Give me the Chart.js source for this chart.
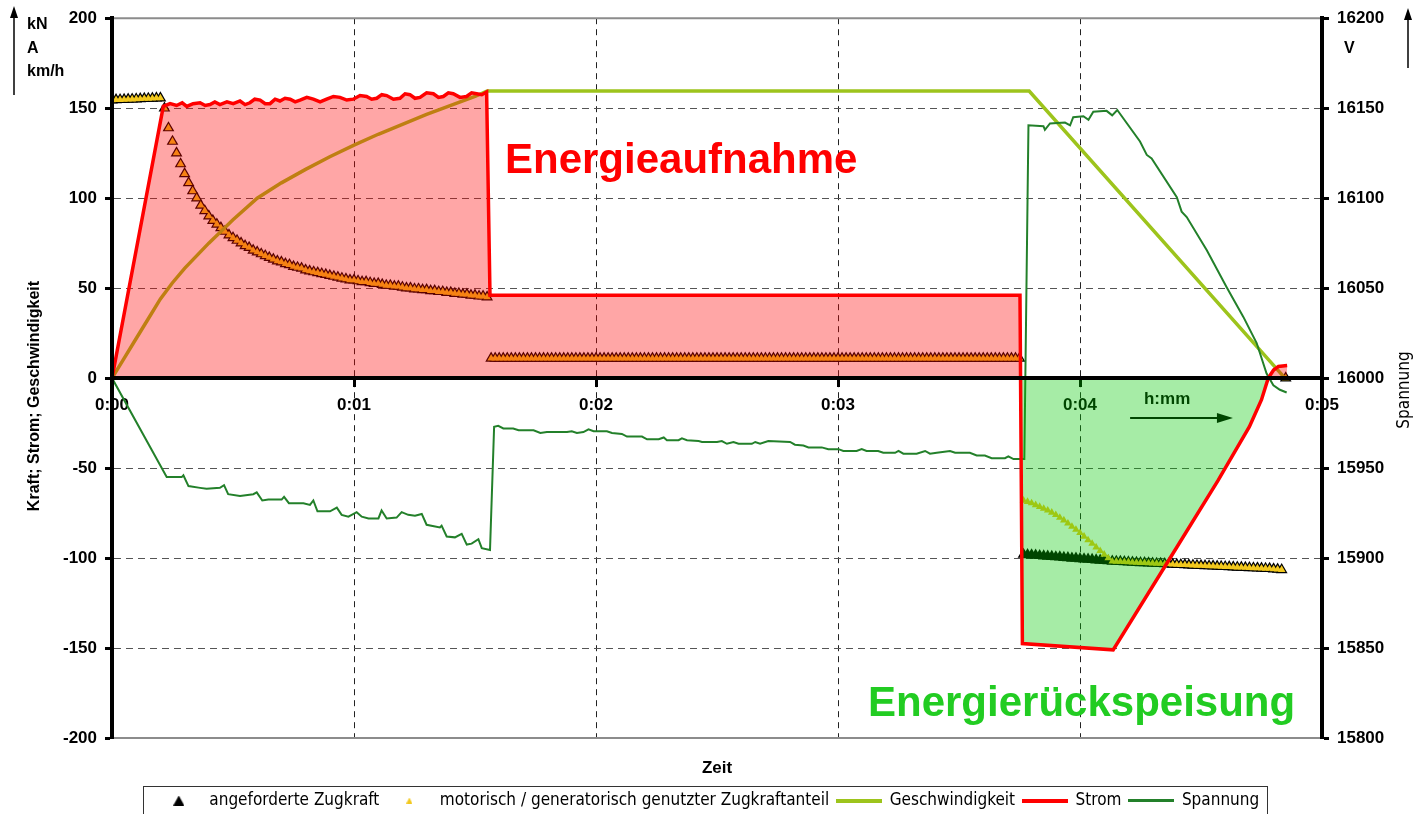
<!DOCTYPE html>
<html lang="de">
<head>
<meta charset="UTF-8">
<title>Fahrtverlauf: Zugkraft, Strom, Geschwindigkeit, Spannung</title>
<script src="https://cdn.jsdelivr.net/npm/chart.js"></script>
<style>
  html, body { margin: 0; padding: 0; background: #fff; }
</style>
</head>
<body>
<canvas id="fahrtChart" width="1416" height="814"></canvas>

<script>
// Zeitachse in Minuten, Beschriftung h:mm
const zeitLabels = ['0:00', '0:01', '0:02', '0:03', '0:04', '0:05'];

// Zugkraft in kN, ein Messwert pro Sekunde (1/60 min)
const zugAnfahrt = [
  154.5, 154.6, 154.7, 154.8, 154.9, 155, 155.1, 155.2, 155.3, 155.4, 155.5, 155.6, 155.6,
  150, 139, 131.5, 125, 119, 113.5, 108.5, 104, 100, 96, 93, 90, 87.5, 85.5, 83.5, 81.5,
  79.5, 78, 76.5, 75, 73.5, 72.5, 71, 70, 69, 68, 67, 66, 65, 64.5, 63.5, 63, 62, 61.5,
  61, 60, 59.5, 59, 58.5, 58, 57.5, 57, 56.5, 56, 55.5, 55, 54.5, 54.5, 54, 53.5, 53.5,
  53, 52.5, 52.5, 52, 51.5, 51.5, 51, 51, 50.5, 50, 50, 49.5, 49.5, 49, 49, 48.5, 48.5,
  48, 48, 47.5, 47.5, 47, 47, 46.5, 46.5, 46, 46, 45.5, 45.5, 45
];
const zugKonstant = [
  11, 11, 11, 11, 11, 11, 11, 11, 11, 11, 11, 11,
  11, 11, 11, 11, 11, 11, 11, 11, 11, 11, 11, 11,
  11, 11, 11, 11, 11, 11, 11, 11, 11, 11, 11, 11,
  11, 11, 11, 11, 11, 11, 11, 11, 11, 11, 11, 11,
  11, 11, 11, 11, 11, 11, 11, 11, 11, 11, 11, 11,
  11, 11, 11, 11, 11, 11, 11, 11, 11, 11, 11, 11,
  11, 11, 11, 11, 11, 11, 11, 11, 11, 11, 11, 11,
  11, 11, 11, 11, 11, 11, 11, 11, 11, 11, 11, 11,
  11, 11, 11, 11, 11, 11, 11, 11, 11, 11, 11, 11,
  11, 11, 11, 11, 11, 11, 11, 11, 11, 11, 11, 11,
  11, 11, 11, 11, 11, 11, 11, 11, 11, 11, 11, 11
];
// Bremsphase: erst angefordert / genutzt getrennt, danach gemeinsam
const zugBremsAngefordert = [
  -98.0, -98.2, -98.3, -98.5, -98.7, -98.9, -99.0, -99.2, -99.4, -99.5, -99.7, -99.9,
  -100.1, -100.2, -100.4, -100.6, -100.7, -100.9, -101.1, -101.3, -101.4, -101.6, -101.8
];
const zugBremsGenutzt = [
  -68, -68.7, -69.5, -70.5, -71.5, -72.5, -73.5, -74.7, -76, -77.5, -79, -80.7,
  -82.5, -84.2, -86, -88, -90, -92, -94, -96, -98, -100, -101.8
];
const zugBremsEnde = [
  -101.9, -102.0, -102.1, -102.2, -102.4, -102.5, -102.6, -102.7, -102.8, -102.9, -103.0,
  -103.1, -103.2, -103.4, -103.5, -103.6, -103.7, -103.8, -103.9, -104.0, -104.1, -104.2,
  -104.3, -104.4, -104.5, -104.6, -104.7, -104.8, -104.9, -105.0, -105.1, -105.2, -105.3,
  -105.4, -105.5, -105.6, -105.7, -105.8, -105.9, -106.1, -106.3, -106.5,
  0
];

// Geschwindigkeit in km/h
const geschwZeit = [0, 0.05, 0.1, 0.15, 0.2, 0.25, 0.3, 0.4, 0.5, 0.6, 0.7, 0.8, 0.9, 1.0,
  1.1, 1.2, 1.3, 1.4, 1.5, 1.55, 3.79, 4.847];
const geschwWerte = [0, 11, 22, 33, 44, 53, 61, 75, 88, 100, 108.5, 116, 123, 129.5,
  135.5, 141, 146.5, 151.5, 156.5, 159.5, 159.5, 0];

// Strom in A
const stromZeit = [0, 0.212, 0.24, 0.267, 0.29, 0.309, 0.335, 0.364, 0.385, 0.405, 0.425, 0.446,
  0.475, 0.501, 0.529, 0.550, 0.570, 0.590, 0.612, 0.633, 0.653, 0.674, 0.694, 0.715, 0.736,
  0.757, 0.777, 0.805, 0.832, 0.860, 0.887, 0.915, 0.942, 0.970, 0.997, 1.025, 1.052,
  1.073, 1.094, 1.115, 1.135, 1.163, 1.190, 1.211, 1.231, 1.252, 1.273, 1.300, 1.328,
  1.349, 1.369, 1.390, 1.410, 1.438, 1.465, 1.486, 1.507, 1.528, 1.548,
  1.562, 3.752, 3.762, 4.137, 4.400, 4.570, 4.700, 4.750, 4.778,
  4.800, 4.820, 4.856];
const stromWerte = [0, 151, 152.5, 151.5, 153, 151, 152.5, 153, 151.5, 152, 153.5, 152,
  153.5, 152.5, 154, 152, 153, 155, 154.5, 152.5, 152.5, 155, 154, 155.5, 155,
  153.5, 154.5, 156, 155, 153.5, 155, 156.5, 156, 154.5, 155, 157, 156.5,
  155, 155.5, 157.5, 157, 155, 155.5, 158, 157.5, 155.5, 156, 158.5, 158,
  156, 156.5, 158.5, 158, 156, 156.5, 158.5, 158, 157.5, 159,
  46, 46, -147.5, -151, -94, -57, -27, -12, 0,
  4.5, 6.5, 7];

// Fahrdrahtspannung in V
const spannungZeit = [
  0, 0.226, 0.288, 0.295, 0.316, 0.364, 0.391, 0.446, 0.463, 0.480,
  0.529, 0.584, 0.598, 0.621, 0.646, 0.701, 0.711, 0.731, 0.791, 0.818,
  0.832, 0.849, 0.901, 0.929, 0.949, 0.977, 1.011, 1.032, 1.060, 1.101,
  1.114, 1.135, 1.176, 1.197, 1.224, 1.252, 1.280, 1.300, 1.355, 1.362,
  1.383, 1.417, 1.445, 1.466, 1.486, 1.514, 1.528, 1.562, 1.579, 1.596,
  1.617, 1.658, 1.680, 1.742, 1.770, 1.797, 1.818, 1.880, 1.900, 1.921,
  1.948, 1.969, 1.990, 2.045, 2.066, 2.107, 2.128, 2.190, 2.211, 2.259,
  2.280, 2.293, 2.341, 2.355, 2.376, 2.424, 2.438, 2.500, 2.520, 2.541,
  2.568, 2.589, 2.644, 2.658, 2.678, 2.712, 2.802, 2.822, 2.857, 2.878,
  2.933, 2.960, 3.002, 3.022, 3.077, 3.098, 3.118, 3.166, 3.187, 3.236,
  3.250, 3.270, 3.325, 3.360, 3.380, 3.408, 3.463, 3.484, 3.545, 3.573,
  3.607, 3.635, 3.690, 3.704, 3.725, 3.770, 3.787, 3.849, 3.855, 3.876,
  3.938, 3.959, 3.972, 4.014, 4.035, 4.055, 4.110, 4.133, 4.154, 4.248,
  4.276, 4.296, 4.400, 4.420, 4.441, 4.524, 4.606, 4.675, 4.730, 4.771,
  4.799, 4.826, 4.854
];
const spannungWerte = [
  16000, 15945, 15945, 15946, 15940, 15939, 15938.5, 15939, 15940.5, 15935.5,
  15934.5, 15935.5, 15936.5, 15932, 15932.5, 15932.5, 15934, 15930.5, 15930.5, 15929.5,
  15932, 15926, 15926, 15928, 15924, 15923, 15925.5, 15923, 15922, 15922,
  15926.5, 15922, 15922.5, 15925.5, 15924, 15923.5, 15924.5, 15918.5, 15917, 15918,
  15912, 15911.5, 15913.5, 15907.5, 15908, 15910.5, 15905.5, 15904.5, 15973, 15973.5,
  15972, 15972, 15971, 15971, 15969.5, 15970, 15970, 15970, 15970.5, 15969.5,
  15970, 15971.5, 15970.5, 15970.5, 15969.5, 15969, 15967.5, 15967.5, 15966, 15966,
  15967, 15965.5, 15965.5, 15966.5, 15965.5, 15965, 15964.5, 15964.5, 15965, 15963.5,
  15964.5, 15963.5, 15963.5, 15964.5, 15963.5, 15965, 15964.5, 15963, 15962.5, 15961.5,
  15961.5, 15960.5, 15960.5, 15959.5, 15959.5, 15960.5, 15959.5, 15959.5, 15958.5, 15958.5,
  15959.5, 15958, 15958, 15959.5, 15958, 15958.5, 15959.5, 15958.5, 15958.5, 15957,
  15957, 15955.5, 15955.5, 15956.5, 15955, 15955, 16140.5, 16140, 16138, 16141.5,
  16142, 16140.5, 16145, 16145.5, 16143.5, 16148, 16148.5, 16146, 16149, 16131.5,
  16124, 16122, 16100.5, 16092.5, 16089.5, 16071, 16050.5, 16034, 16019.5, 16002.5,
  15996, 15993.5, 15992
];

const zugAngefordert = [...zugAnfahrt, ...zugKonstant, ...zugBremsAngefordert, ...zugBremsEnde];
const zugGenutzt = [...zugAnfahrt, ...zugKonstant, ...zugBremsGenutzt, ...zugBremsEnde];
const zugZeit = zugAngefordert.map((_, i) => i / 60);

const punkte = (zeit, werte) => zeit.map((t, i) => ({ x: t, y: werte[i] }));

const farbe = {
  zugkraft: '#000000',
  genutzt: '#F2C81E',
  geschw: '#9DC41C',
  strom: '#FF0000',
  spannung: '#23802A'
};

// kleine Symbole fuer die Legende
function symbol(w, h, malen) {
  const c = document.createElement('canvas');
  c.width = w;
  c.height = h;
  malen(c.getContext('2d'), w, h);
  return c;
}
const dreieck = (col) => (g, w, h) => {
  g.fillStyle = col;
  g.beginPath();
  g.moveTo(w / 2, 0);
  g.lineTo(w, h);
  g.lineTo(0, h);
  g.closePath();
  g.fill();
};
const balken = (col) => (g, w, h) => { g.fillStyle = col; g.fillRect(0, 0, w, h); };
const legendenSymbole = [
  symbol(11, 10, dreieck(farbe.zugkraft)),
  symbol(6, 6, dreieck(farbe.genutzt)),
  symbol(46, 4, balken(farbe.geschw)),
  symbol(46, 4, balken(farbe.strom)),
  symbol(46, 3, balken(farbe.spannung))
];

const fontBold = '"Liberation Sans", Arial, Helvetica, sans-serif';
const fontNarrow = '"Liberation Sans Narrow", "Arial Narrow", "DejaVu Sans Condensed", sans-serif';

// Texte, Pfeile und Rahmen rund ums Diagramm
const beschriftung = {
  id: 'beschriftung',
  beforeDatasetsDraw(chart) {
    const { ctx, chartArea: a } = chart;
    const sx = chart.scales.x;
    const y0 = chart.scales.y.getPixelForValue(0);
    ctx.save();
    ctx.strokeStyle = '#8c8c8c';
    ctx.lineWidth = 2;
    ctx.beginPath();
    ctx.moveTo(a.left, a.top); ctx.lineTo(a.right, a.top);
    ctx.moveTo(a.left, a.bottom); ctx.lineTo(a.right, a.bottom);
    ctx.stroke();

    // h:mm mit Pfeil
    ctx.fillStyle = '#000';
    ctx.strokeStyle = '#000';
    ctx.font = 'bold 17px ' + fontBold;
    ctx.textAlign = 'center';
    ctx.textBaseline = 'middle';
    ctx.fillText('h:mm', sx.getPixelForValue(4.36), y0 + 21);
    const pa = sx.getPixelForValue(4.207), pb = sx.getPixelForValue(4.632), py = y0 + 40;
    ctx.lineWidth = 2;
    ctx.beginPath(); ctx.moveTo(pa, py); ctx.lineTo(pb - 12, py); ctx.stroke();
    ctx.beginPath(); ctx.moveTo(pb, py); ctx.lineTo(pb - 16, py - 5); ctx.lineTo(pb - 16, py + 5); ctx.closePath(); ctx.fill();
    ctx.restore();
  },
  afterDraw(chart) {
    const { ctx } = chart;
    ctx.save();
    ctx.fillStyle = '#000';
    ctx.strokeStyle = '#000';

    // Einheiten links und rechts mit Pfeil
    ctx.font = 'bold 16px ' + fontBold;
    ctx.textAlign = 'left';
    ctx.textBaseline = 'middle';
    ctx.fillText('kN', 27, 25);
    ctx.fillText('A', 27, 49);
    ctx.fillText('km/h', 27, 72);
    ctx.fillText('V', 1344, 49);
    const pfeilHoch = (x, yUnten, yOben) => {
      ctx.lineWidth = 1.5;
      ctx.beginPath(); ctx.moveTo(x, yUnten); ctx.lineTo(x, yOben + 8); ctx.stroke();
      ctx.beginPath(); ctx.moveTo(x, yOben); ctx.lineTo(x - 4, yOben + 12); ctx.lineTo(x + 4, yOben + 12); ctx.closePath(); ctx.fill();
    };
    pfeilHoch(14, 95, 6);
    pfeilHoch(1408, 68, 8);

    // Achsentitel
    ctx.textAlign = 'center';
    ctx.save();
    ctx.translate(35, 396);
    ctx.rotate(-Math.PI / 2);
    ctx.font = 'bold 16px ' + fontBold;
    ctx.fillText('Kraft; Strom; Geschwindigkeit', 0, 0);
    ctx.restore();
    ctx.save();
    ctx.translate(1405, 390);
    ctx.rotate(-Math.PI / 2);
    ctx.font = '17px ' + fontNarrow;
    ctx.fillText('Spannung', 0, 0);
    ctx.restore();

    // Bereichstexte
    ctx.textAlign = 'left';
    ctx.textBaseline = 'alphabetic';
    ctx.font = 'bold 42px ' + fontBold;
    ctx.fillStyle = '#FF0000';
    ctx.fillText('Energieaufnahme', 505, 173);
    ctx.fillStyle = '#22CC22';
    ctx.fillText('Energierückspeisung', 868, 716);

    // Rahmen der Legende
    const boxen = chart.legend.legendHitBoxes;
    if (boxen && boxen.length) {
      const l = Math.min(...boxen.map(b => b.left)) - 14;
      const r = Math.max(...boxen.map(b => b.left + b.width)) + 8;
      const t = Math.min(...boxen.map(b => b.top)) - 6;
      ctx.strokeStyle = '#333';
      ctx.lineWidth = 1;
      ctx.strokeRect(Math.round(l) + 0.5, Math.round(t) + 0.5, Math.round(r - l), 40);
    }
    ctx.restore();
  }
};

const tickFont = { family: fontBold, size: 17, weight: 'bold' };

const ctx = document.getElementById('fahrtChart').getContext('2d');
const chart = new Chart(ctx, {
  type: 'line',
  data: {
    datasets: [
      {
        label: 'angeforderte Zugkraft',
        data: punkte(zugZeit, zugAngefordert),
        showLine: false,
        pointStyle: 'triangle',
        pointRadius: 6.8,
        pointBorderWidth: 0,
        pointBackgroundColor: farbe.zugkraft,
        borderColor: farbe.zugkraft,
        backgroundColor: farbe.zugkraft,
        order: 4
      },
      {
        label: 'motorisch / generatorisch genutzter Zugkraftanteil',
        data: punkte(zugZeit, zugGenutzt),
        showLine: false,
        pointStyle: 'triangle',
        pointRadius: 4.4,
        pointBorderWidth: 0,
        pointBackgroundColor: farbe.genutzt,
        borderColor: farbe.genutzt,
        backgroundColor: farbe.genutzt,
        order: 3
      },
      {
        label: 'Geschwindigkeit',
        data: punkte(geschwZeit, geschwWerte),
        borderColor: farbe.geschw,
        borderWidth: 3.5,
        pointRadius: 0,
        fill: false,
        order: 2
      },
      {
        label: 'Strom',
        data: punkte(stromZeit, stromWerte),
        borderColor: farbe.strom,
        borderWidth: 3.5,
        pointRadius: 0,
        fill: { target: 'origin', above: 'rgba(255,0,0,0.35)', below: 'rgba(0,200,0,0.35)' },
        order: 0
      },
      {
        label: 'Spannung',
        data: punkte(spannungZeit, spannungWerte),
        yAxisID: 'y1',
        borderColor: farbe.spannung,
        borderWidth: 2,
        pointRadius: 0,
        fill: false,
        order: 1
      }
    ]
  },
  options: {
    responsive: false,
    animation: false,
    events: [],
    layout: { padding: { top: 18, left: 0, right: 0, bottom: -5 } },
    scales: {
      x: {
        type: 'linear',
        min: 0,
        max: 5,
        position: { y: 0 },
        ticks: { stepSize: 1, callback: v => zeitLabels[v], font: tickFont, color: '#000', padding: 10, maxRotation: 0 },
        grid: { color: '#222', lineWidth: 1, tickLength: 7, tickWidth: 3, tickColor: '#000' },
        border: { color: '#000', width: 4, dash: [6, 5], z: 1 }
      },
      xZeit: {
        type: 'linear',
        min: 0,
        max: 5,
        position: 'bottom',
        ticks: { display: false },
        grid: { display: false },
        border: { display: false },
        title: { display: true, text: 'Zeit', color: '#000', font: { family: fontBold, size: 17, weight: 'bold' }, padding: { top: 0, bottom: 5 } },
        afterFit: (s) => { s.height = 46; }
      },
      y: {
        type: 'linear',
        position: 'left',
        min: -200,
        max: 200,
        ticks: { stepSize: 50, font: tickFont, color: '#000', padding: 8 },
        grid: {
          color: c => (c.tick && Math.abs(c.tick.value) === 200) ? 'rgba(0,0,0,0)' : '#555',
          lineWidth: 1, tickLength: 7, tickWidth: 3, tickColor: '#000'
        },
        border: { color: '#000', width: 4, dash: [7, 5], z: 1 },
        afterFit: (s) => { s.width = 112; }
      },
      y1: {
        type: 'linear',
        position: 'right',
        min: 15800,
        max: 16200,
        ticks: { stepSize: 50, callback: v => String(v), font: tickFont, color: '#000', padding: 8 },
        grid: { drawOnChartArea: false, tickLength: 7, tickWidth: 3, tickColor: '#000' },
        border: { color: '#000', width: 4, z: 1 },
        afterFit: (s) => { s.width = 94; }
      }
    },
    plugins: {
      tooltip: { enabled: false },
      legend: {
        position: 'bottom',
        labels: {
          usePointStyle: true,
          pointStyleWidth: 44,
          padding: 8,
          color: '#000',
          font: { family: fontNarrow, size: 17 },
          generateLabels(c) {
            const items = Chart.defaults.plugins.legend.labels.generateLabels(c);
            items.sort((a, b) => a.datasetIndex - b.datasetIndex);
            items.forEach((it) => { it.pointStyle = legendenSymbole[it.datasetIndex]; });
            return items;
          }
        }
      }
    }
  },
  plugins: [beschriftung]
});
</script>
</body>
</html>
